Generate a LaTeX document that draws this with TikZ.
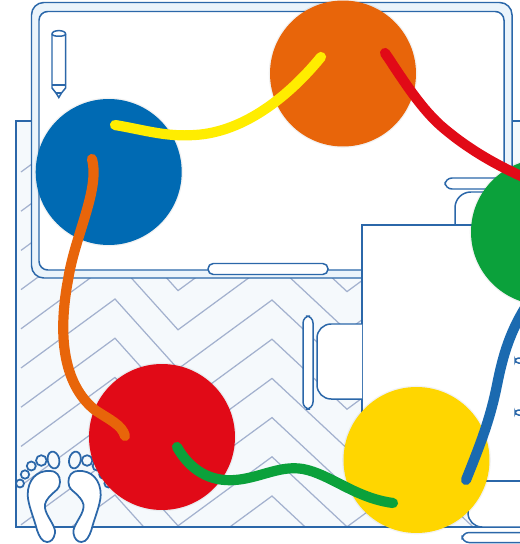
\documentclass[tikz,border=0pt]{standalone}
\definecolor{planblue}{HTML}{2B67A9}
\definecolor{herring}{HTML}{A3B1CE}
\definecolor{rugfill}{HTML}{F5F9FC}
\definecolor{deskfill}{HTML}{EBF4FB}
\definecolor{spotblue}{HTML}{006AB3}
\definecolor{spotorange}{HTML}{E8650A}
\definecolor{spotred}{HTML}{E10A17}
\definecolor{spotgreen}{HTML}{0BA13B}
\definecolor{spotyellow}{HTML}{FFD600}
\definecolor{cordyellow}{HTML}{FFED00}
\definecolor{cordblue}{HTML}{1B6AB0}
\tikzset{
  plan/.style={draw=planblue,line width=.85pt},
  furn/.style={plan,fill=white},
  toe/.style={plan,line width=1pt,fill=rugfill},
  spot/.style={circle,inner sep=0pt,minimum size=2.92cm,preaction={draw=black,draw opacity=.05,line width=1.5pt}},
  cord/.style={line width=5.8pt,line cap=round},
}
\begin{document}
\begin{tikzpicture}[x=.02cm,y=-.02cm]
  \useasboundingbox (0,0) rectangle (520,544);
  % rug
  \fill[rugfill] (16,121) rectangle (540,527);
  \begin{scope}
    \clip (16,121) rectangle (540,527);
    \foreach \yy in {-5,...,6}
      \draw[herring,line width=.7pt] (21,299+39.2*\yy+69) -- (115,299+39.2*\yy) -- (178,299+39.2*\yy+70)
        -- (272,299+39.2*\yy+1) -- (347,299+39.2*\yy+71) -- (441,299+39.2*\yy+2) -- (516,299+39.2*\yy+72) -- (540,299+39.2*\yy+55);
  \end{scope}
  \draw[plan] (540,121) -- (16,121) -- (16,527) -- (540,527);
  % desk
  \draw[plan,fill=deskfill,rounded corners=7pt] (31.5,278) -- (31.5,2.5) -- (512,2.5) -- (512,278) -- cycle;
  \draw[furn,rounded corners=5pt] (39,270) -- (39,11.5) -- (504,11.5) -- (504,270) -- cycle;
  \draw[furn,rounded corners=3pt] (208,274.5) rectangle (328,263.5);
  % pen
  \draw[furn] (52,85) -- (52,34) .. controls (52,29.5) and (65.6,29.5) .. (65.6,34) -- (65.6,85)
    -- (65.6,88) -- (61.5,93) -- (58.8,97.5) -- (56,93) -- (52,88) -- cycle;
  \draw[plan] (52,34) .. controls (52,37) and (65.6,37) .. (65.6,34);
  \draw[plan] (52,85) -- (65.6,85) (56,93) -- (61.5,93);
  % table and chairs
  \draw[furn,rounded corners=4pt] (540,178) -- (445,178) -- (445,189) -- (540,189);
  \draw[furn,rounded corners=9pt] (455,225) -- (455,192) -- (540,192);
  \draw[furn] (362,225) rectangle (540,481);
  \draw[furn,rounded corners=4pt] (303,316) rectangle (313,409);
  \draw[furn,rounded corners=8pt] (362,324) -- (317,324) -- (317,399) -- (362,399);
  \draw[furn,rounded corners=8pt] (540,481) -- (468,481) -- (468,527) -- (540,527);
  \draw[furn,rounded corners=4pt] (540,532.5) -- (462,532.5) -- (462,542.5) -- (540,542.5);
  \draw[furn,rounded corners=2pt] (524,358) -- (515,358) -- (515,363) -- (524,363);
  \draw[furn,rounded corners=2pt] (524,410) -- (515,410) -- (515,415) -- (524,415);
  % feet
  \foreach \fx/\fs in {0/1,128.4/-1} {
    \begin{scope}[shift={(\fx,0)},xscale=\fs]
      \draw[furn,line width=1pt] (50,471) .. controls (57,471) and (60,476) .. (60,482)
        .. controls (60,489) and (55,491) .. (52,494) .. controls (47,499) and (44,503) .. (45,508)
        .. controls (46,516) and (56,526) .. (55,533) .. controls (54,539) and (51,542) .. (47,542)
        .. controls (42,542) and (39,536) .. (37,530) .. controls (34,518) and (28,505) .. (27.7,495)
        .. controls (27.5,480) and (37,470) .. (50,471) -- cycle;
      \draw[toe,rotate around={12:(53.5,460)}] (53.5,460) ellipse (5.8 and 8.5);
      \draw[toe] (41.3,460.5) circle (5.3);
      \draw[toe] (31.3,466) circle (4.5);
      \draw[toe] (25,474.5) circle (4.2);
      \draw[toe] (20,483.5) circle (4);
    \end{scope}
  }
  % coloured spots
  \node[spot,fill=spotorange] (orange) at (343,73.5) {};
  \node[spot,fill=spotblue] (blue) at (108.7,172) {};
  \node[spot,fill=spotred] (red) at (162,437) {};
  \node[spot,fill=spotyellow] (yellow) at (416.5,460) {};
  \node[spot,fill=spotgreen] (green) at (544,232) {};
  \coordinate (blueA) at (115,125);
  \coordinate (orangeA) at (321,57);
  \coordinate (orangeB) at (385,53);
  \coordinate (greenA) at (530,180);
  \coordinate (greenB) at (530,300);
  \coordinate (blueB) at (92,159);
  \coordinate (redA) at (125,436);
  \coordinate (redB) at (177,447);
  \coordinate (yellowA) at (393,503);
  \coordinate (yellowB) at (466,480);
  % cords
  \draw[cord,cordyellow] (blueA) .. controls (145,130) and (165,137) .. (195,135) .. controls (245,132) and (290,95) .. (orangeA);
  \draw[cord,spotred] (orangeB) .. controls (400,75) and (418,105) .. (440,125) .. controls (465,147) and (495,165) .. (greenA);
  \draw[cord,spotorange] (blueB) .. controls (100,190) and (75,235) .. (68,280) .. controls (55,350) and (70,390) .. (95,410) .. controls (110,420) and (122,425) .. (redA);
  \draw[cord,spotgreen] (redB) .. controls (190,470) and (210,482) .. (235,480) .. controls (260,478) and (280,465) .. (303,469) .. controls (330,474) and (355,498) .. (yellowA);
  \draw[cord,cordblue] (yellowB) .. controls (480,445) and (490,420) .. (497,385) .. controls (503,355) and (510,330) .. (greenB);
\end{tikzpicture}
\end{document}
